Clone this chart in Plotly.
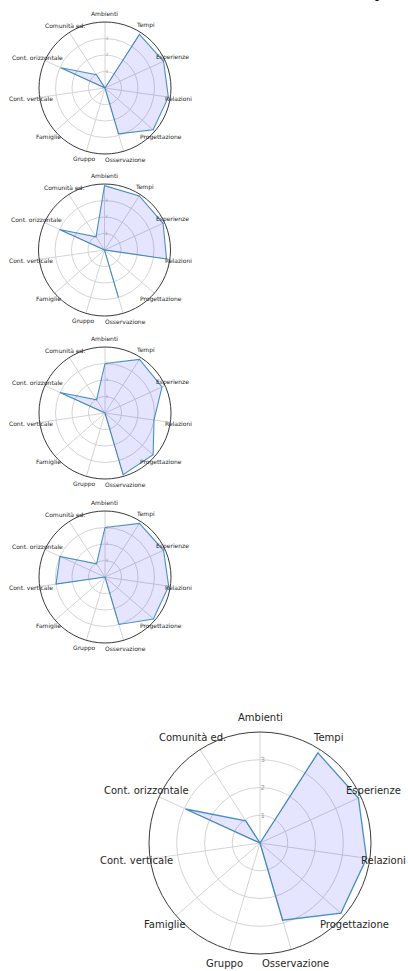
import math
import plotly.graph_objects as go

# Competence areas, clockwise from the top
categories = [
    "Ambienti", "Tempi", "Esperienze", "Relazioni", "Progettazione",
    "Osservazione", "Gruppo", "Famiglie", "Cont. verticale",
    "Cont. orizzontale", "Comunità ed.",
]

# Scores for each profile (scale 0-4)
profile_1 = [0.0, 3.86, 3.9, 3.88, 3.86, 2.9, 0.0, 0.0, 0.0, 2.95, 0.95]
profile_2 = [3.9, 3.9, 3.9, 3.8, 0.0, 3.0, 0.0, 0.0, 0.0, 3.0, 0.95]
profile_3 = [3.0, 3.86, 3.8, 3.0, 3.86, 3.9, 0.0, 0.0, 0.0, 3.0, 0.95]
profile_4 = [3.0, 3.86, 3.9, 3.9, 3.88, 3.0, 0.0, 0.0, 3.0, 3.0, 0.95]
profile_summary = profile_1

radial_ticks = [1, 2, 3]
radial_max = 4

W, H = 408, 971

# (values, centre x, centre y, radius, label font, tick font) in pixels
panels = [
    (profile_1, 105, 88, 66, 6, 4.5),
    (profile_2, 104.5, 250, 66, 6, 4.5),
    (profile_3, 105, 413, 66, 6, 4.5),
    (profile_4, 105, 577, 66, 6, 4.5),
    (profile_summary, 260, 843, 111, 10, 7),
]

LINE = "rgba(31,119,180,0.8)"
FILL = "rgba(0,0,255,0.1)"
GRID = "#d4d4d4"
TEXT = "#262626"
FONT = "DejaVu Sans"

fig = go.Figure()
annotations = []
layout = {}

n = len(categories)
for i, (vals, cx, cy, R, fsize, tsize) in enumerate(panels, start=1):
    name = "polar" if i == 1 else f"polar{i}"
    fig.add_trace(go.Scatterpolar(
        r=vals + vals[:1],
        theta=categories + categories[:1],
        mode="lines",
        fill="toself",
        fillcolor=FILL,
        line=dict(color=LINE, width=1.3 if R > 100 else 1.1),
        subplot=name,
        showlegend=False,
        hoverinfo="skip",
    ))
    layout[name] = dict(
        domain=dict(x=[(cx - R) / W, (cx + R) / W],
                    y=[1 - (cy + R) / H, 1 - (cy - R) / H]),
        bgcolor="white",
        radialaxis=dict(
            range=[0, radial_max],
            tickvals=radial_ticks,
            ticktext=[str(t) for t in radial_ticks],
            tickfont=dict(size=tsize, color="#9a9a9a", family=FONT),
            showline=False,
            ticks="",
            angle=90,
            tickangle=90,
            gridcolor=GRID,
            gridwidth=1,
        ),
        angularaxis=dict(
            rotation=90,
            direction="clockwise",
            showticklabels=False,
            ticks="",
            gridcolor=GRID,
            gridwidth=1,
            showline=True,
            linecolor="#3a3a3a",
            linewidth=1,
        ),
    )
    # category labels centred just outside the rim
    lr = R * 1.128
    for k, lab in enumerate(categories):
        a = 2 * math.pi * k / n
        x = cx + lr * math.sin(a)
        y = cy - lr * math.cos(a)
        annotations.append(dict(
            text=lab, x=x / W, y=1 - y / H, xref="paper", yref="paper",
            xanchor="center", yanchor="middle", showarrow=False,
            font=dict(size=fsize, color=TEXT, family=FONT),
        ))

annotations.append(dict(
    text="<b>Numero di risposte</b>", x=1.0, y=1 - 3 / H,
    xref="paper", yref="paper", xanchor="right", yanchor="bottom",
    showarrow=False, font=dict(size=14, color="#111111", family="Liberation Serif"),
))

fig.update_layout(
    width=W, height=H,
    margin=dict(l=0, r=0, t=0, b=0),
    paper_bgcolor="white",
    plot_bgcolor="white",
    annotations=annotations,
    **layout,
)

fig.write_html("out.html")
